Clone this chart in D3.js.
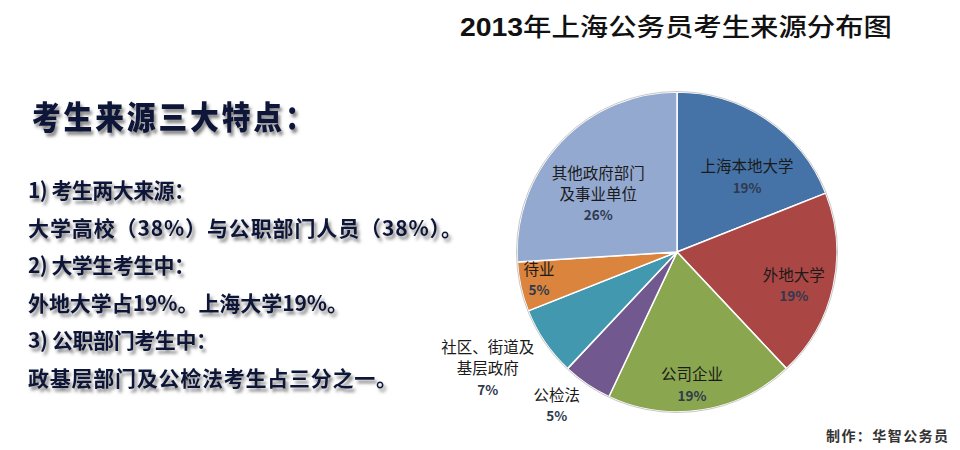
<!DOCTYPE html>
<html>
<head>
<meta charset="utf-8">
<script src="https://cdn.jsdelivr.net/npm/d3@7"></script>
<style>
  html, body { margin: 0; padding: 0; background: #fff; }
  svg { display: block; font-family: "Noto Sans CJK SC", "Noto Sans", sans-serif; }
</style>
</head>
<body>
<svg id="chart" width="960" height="450"></svg>
<script>
// chart data
const categories = ['上海本地大学', '外地大学', '公司企业', '公检法', '社区、街道及基层政府', '待业', '其他政府部门及事业单位'];
const shares = [19, 19, 19, 5, 7, 5, 26];
const labelLines = [['上海本地大学'], ['外地大学'], ['公司企业'], ['公检法'], ['社区、街道及', '基层政府'], ['待业'], ['其他政府部门', '及事业单位']];
const sliceColors = ['#4573a7', '#aa4644', '#8aa64e', '#71588f', '#4198af', '#db843d', '#94a9d0'];

const titleText = '2013年上海公务员考生来源分布图';
const noteTitle = '考生来源三大特点：';
const noteLines = [
  '1) 考生两大来源：',
  '大学高校（38%）与公职部门人员（38%）。',
  '2) 大学生考生中：',
  '外地大学占19%。上海大学19%。',
  '3) 公职部门考生中：',
  '政基层部门及公检法考生占三分之一。'
];
const footerText = '制作：华智公务员';

// layout
const cx = 677, cy = 252, radius = 160;
// label placement relative to the slice (radius fraction, angle shift in degrees)
const labelRadius = [0.64, 0.76, 0.84, 1.22, 1.39, 0.88, 0.61];
const labelShift = [9, 3.6, 2.6, 3.8, 2.5, 1.2, -6.9];
const noteWidths = [167, 434, 167, 320, 189, 369];

const svg = d3.select('#chart');

const defs = svg.append('defs');
defs.append('filter')
  .attr('id', 'shadow')
  .attr('x', '-10%').attr('y', '-30%')
  .attr('width', '130%').attr('height', '180%')
  .append('feDropShadow')
  .attr('dx', 2.5).attr('dy', 3.5)
  .attr('stdDeviation', 1.6)
  .attr('flood-color', '#444')
  .attr('flood-opacity', 0.65);

// title
const title = svg.append('text')
  .attr('x', 460)
  .attr('y', 36)
  .attr('textLength', 432)
  .attr('lengthAdjust', 'spacingAndGlyphs')
  .attr('font-size', 25)
  .attr('fill', '#111');
title.append('tspan')
  .attr('font-weight', 700)
  .attr('font-family', '"Liberation Sans", Arial, sans-serif')
  .text(titleText.slice(0, 4));
title.append('tspan')
  .attr('font-weight', 500)
  .text(titleText.slice(4));

// left notes
svg.append('text')
  .attr('transform', 'translate(32,129) scale(0.9,1)')
  .attr('textLength', 313)
  .attr('lengthAdjust', 'spacing')
  .attr('font-size', 32)
  .attr('font-weight', 900)
  .attr('fill', '#0e1638')
  .attr('filter', 'url(#shadow)')
  .text(noteTitle);

svg.append('g')
  .selectAll('text')
  .data(noteLines)
  .join('text')
  .attr('x', 28)
  .attr('y', function(d, i) { return 198 + i * 37.5; })
  .attr('textLength', function(d, i) { return noteWidths[i]; })
  .attr('lengthAdjust', 'spacing')
  .attr('font-size', 21)
  .attr('font-weight', 700)
  .attr('fill', '#0e1638')
  .attr('filter', 'url(#shadow)')
  .text(function(d) { return d; });

// pie
const pie = d3.pie().sort(null).value(function(d) { return d; });
const arcs = pie(shares);
const arc = d3.arc().innerRadius(0).outerRadius(radius);

const g = svg.append('g').attr('transform', 'translate(' + cx + ',' + cy + ')');

g.selectAll('path.slice')
  .data(arcs)
  .join('path')
  .attr('class', 'slice')
  .attr('d', arc)
  .attr('fill', function(d, i) { return sliceColors[i]; })
  .attr('stroke', '#fff')
  .attr('stroke-width', 1.5)
  .attr('stroke-linejoin', 'round');

g.append('circle')
  .attr('r', radius + 0.5)
  .attr('fill', 'none')
  .attr('stroke', '#c8c8c8')
  .attr('stroke-width', 1);

const labels = g.selectAll('g.label')
  .data(arcs)
  .join('g')
  .attr('class', 'label')
  .attr('transform', function(d, i) {
    const a = (d.startAngle + d.endAngle) / 2 + labelShift[i] * Math.PI / 180;
    const r = radius * labelRadius[i];
    return 'translate(' + (r * Math.sin(a)) + ',' + (-r * Math.cos(a)) + ')';
  });

labels.each(function(d, i) {
  const lines = labelLines[i];
  const total = lines.length + 1;
  const sel = d3.select(this);
  const top = -(total - 1) * 21 / 2;
  lines.forEach(function(line, j) {
    sel.append('text')
      .attr('text-anchor', 'middle')
      .attr('y', top + j * 21)
      .attr('dy', '0.35em')
      .attr('font-size', 15.5)
      .attr('fill', '#1a1a1a')
      .text(line);
  });
  sel.append('text')
    .attr('text-anchor', 'middle')
    .attr('y', top + lines.length * 21)
    .attr('dy', '0.35em')
    .attr('font-size', 13.5)
    .attr('font-weight', 700)
    .attr('fill', '#2e3a4e')
    .text(d3.format('.0f')(shares[i]) + '%');
});

// footer
svg.append('text')
  .attr('x', 826)
  .attr('y', 441)
  .attr('textLength', 122)
  .attr('lengthAdjust', 'spacing')
  .attr('font-size', 14)
  .attr('font-weight', 700)
  .attr('fill', '#333')
  .text(footerText);
</script>
</body>
</html>
